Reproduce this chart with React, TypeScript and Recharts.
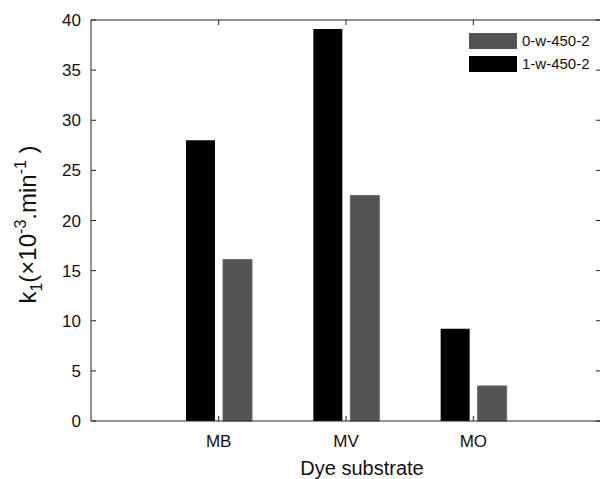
import React from 'react'
import { BarChart, Bar, XAxis, YAxis, ReferenceLine } from 'recharts'

const categories = ['MB', 'MV', 'MO']
const series1w = [28.0, 39.1, 9.2] // 1-w-450-2 (black)
const series0w = [16.1, 22.5, 3.5] // 0-w-450-2 (gray)
const yTicks = [0, 5, 10, 15, 20, 25, 30, 35, 40]
const legendOrder = ['0-w-450-2', '1-w-450-2']

const FONT = '"Liberation Sans", Arial, Helvetica, sans-serif'
const AXIS = '#222'
const TICK_LEN = 5
const COLORS: Record<string, string> = {
  '1-w-450-2': '#000',
  '0-w-450-2': '#545454',
}

const chartData = categories.map((name, i) => ({
  name,
  '1-w-450-2': series1w[i],
  '0-w-450-2': series0w[i],
}))

// inward tick marks on both ends of a reference line (matlab style box ticks)
const HTicks = ({ x1, x2, y1 }: any) => {
  const l = Math.min(x1, x2)
  const r = Math.max(x1, x2)
  return (
    <g>
      <line x1={l} x2={l + TICK_LEN} y1={y1} y2={y1} stroke={AXIS} />
      <line x1={r - TICK_LEN} x2={r} y1={y1} y2={y1} stroke={AXIS} />
    </g>
  )
}

const VTicks = ({ x1, y1, y2 }: any) => {
  const t = Math.min(y1, y2)
  const b = Math.max(y1, y2)
  return (
    <g>
      <line x1={x1} x2={x1} y1={t} y2={t + TICK_LEN} stroke={AXIS} />
      <line x1={x1} x2={x1} y1={b - TICK_LEN} y2={b} stroke={AXIS} />
    </g>
  )
}

const BottomTick = ({ x, y, payload }: any) => (
  <text x={x} y={y} dy={12} textAnchor="middle" fontSize={17} fontFamily={FONT} fill="#111">
    {payload.value}
  </text>
)

const LeftTick = ({ x, y, payload }: any) => (
  <text x={x} y={y} dy={6} textAnchor="end" fontSize={17} fontFamily={FONT} fill="#111">
    {payload.value}
  </text>
)

const YLabel = ({ viewBox }: any) => {
  const cx = viewBox.x + 36
  const cy = viewBox.y + viewBox.height / 2 + 4
  return (
    <text
      x={cx}
      y={cy}
      transform={`rotate(-90, ${cx}, ${cy})`}
      textAnchor="middle"
      fontSize={24}
      fontFamily={FONT}
      fill="#111"
    >
      k<tspan fontSize={16} dy={6}>1</tspan>
      <tspan dy={-6}>(×10</tspan>
      <tspan fontSize={16} dy={-10}>-3</tspan>
      <tspan dy={10}>.min</tspan>
      <tspan fontSize={16} dy={-10}>-1</tspan>
      <tspan dy={10}> )</tspan>
    </text>
  )
}

function LegendBox() {
  return (
    <div style={{ position: 'absolute', top: 29, left: 469, fontFamily: FONT, fontSize: 15, color: '#111' }}>
      {legendOrder.map((name) => (
        <div key={name} style={{ display: 'flex', alignItems: 'center', height: 23 }}>
          <span style={{ width: 48, height: 16, background: COLORS[name], display: 'inline-block', marginRight: 5 }} />
          <span>{name}</span>
        </div>
      ))}
    </div>
  )
}

export default function App() {
  return (
    <div style={{ position: 'absolute', left: 0, top: 0, width: 600, height: 479, overflow: 'hidden', background: '#fff' }}>
      <BarChart
        width={603}
        height={479}
        data={chartData}
        margin={{ top: 20, right: 2, left: 0, bottom: 0 }}
        barSize={29}
        barGap={8}
      >
        <XAxis
          dataKey="name"
          height={58}
          padding={{ left: 64, right: 64 }}
          stroke={AXIS}
          tickLine={false}
          tickSize={0}
          tickMargin={14}
          tick={<BottomTick />}
          label={{ value: 'Dye substrate', position: 'insideBottom', dx: 16, offset: 4, fill: '#111', fontSize: 20, fontFamily: FONT }}
        />
        <YAxis
          domain={[0, 40]}
          ticks={yTicks}
          width={91}
          stroke={AXIS}
          tickLine={false}
          tickSize={0}
          tickMargin={10}
          tick={<LeftTick />}
          label={<YLabel />}
        />
        <ReferenceLine y={40} stroke={AXIS} />
        {yTicks.map((t) => (
          <ReferenceLine key={`y${t}`} y={t} shape={<HTicks />} />
        ))}
        {categories.map((c) => (
          <ReferenceLine key={`x${c}`} x={c} shape={<VTicks />} />
        ))}
        <Bar dataKey="1-w-450-2" fill={COLORS['1-w-450-2']} isAnimationActive={false} />
        <Bar dataKey="0-w-450-2" fill={COLORS['0-w-450-2']} stroke="#6a6a6a" strokeWidth={1} isAnimationActive={false} />
      </BarChart>
      <LegendBox />
    </div>
  )
}
